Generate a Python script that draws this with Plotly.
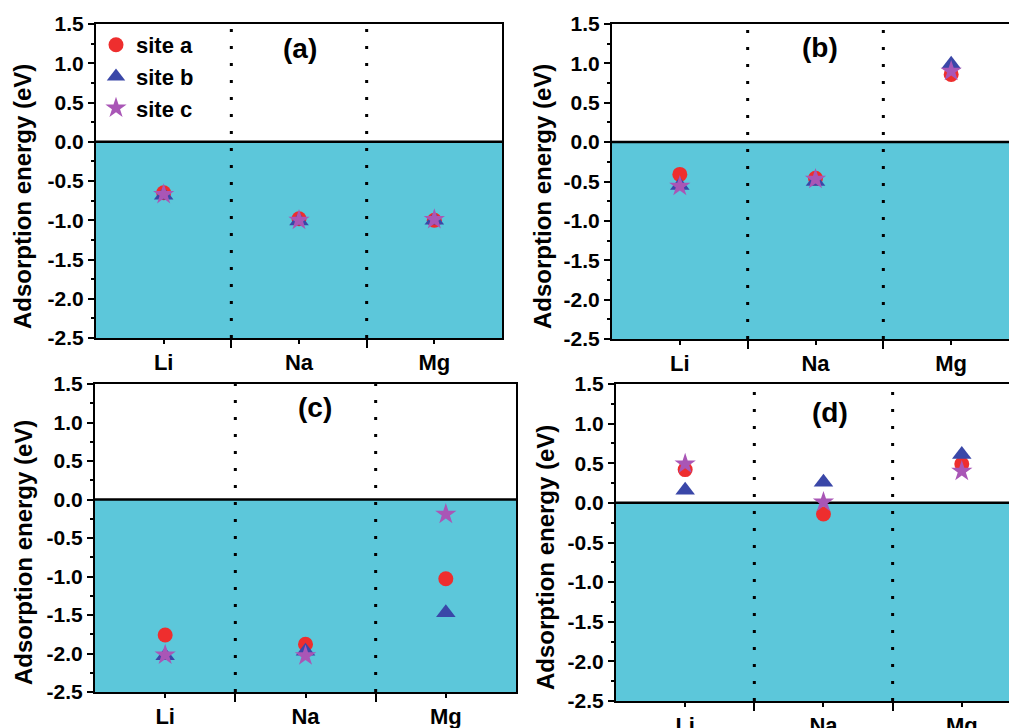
import plotly.graph_objects as go

W, H = 1017, 728
OFF = 8  # page body margin: screen pixel = figure pixel + OFF

categories = ["Li", "Na", "Mg"]
series_names = ["site a", "site b", "site c"]

# panel (a)
a_site_a = [-0.65, -0.98, -1.00]
a_site_b = [-0.68, -1.01, -1.00]
a_site_c = [-0.67, -1.00, -0.99]
# panel (b)
b_site_a = [-0.41, -0.46, 0.86]
b_site_b = [-0.55, -0.50, 0.99]
b_site_c = [-0.56, -0.47, 0.90]
# panel (c)
c_site_a = [-1.76, -1.88, -1.03]
c_site_b = [-2.03, -1.97, -1.47]
c_site_c = [-2.02, -2.03, -0.19]
# panel (d)
d_site_a = [0.42, -0.14, 0.49]
d_site_b = [0.16, 0.26, 0.61]
d_site_c = [0.49, 0.01, 0.40]

panel_labels = ["(a)", "(b)", "(c)", "(d)"]
y_title = "Adsorption energy (eV)"
y_ticks = [1.5, 1.0, 0.5, 0.0, -0.5, -1.0, -1.5, -2.0, -2.5]

panels = [
    [a_site_a, a_site_b, a_site_c],
    [b_site_a, b_site_b, b_site_c],
    [c_site_a, c_site_b, c_site_c],
    [d_site_a, d_site_b, d_site_c],
]

RED = "#ee2e2e"
BLUE = "#3a47a8"
PURPLE = "#a956b6"
CYAN = "#5cc7da"
styles = [
    dict(symbol="circle", size=15, color=RED),
    dict(symbol="triangle-up", size=17, color=BLUE),
    dict(symbol="star", size=16, color=PURPLE),
]

FONT = "Liberation Sans, Arial, sans-serif"


def fx(px):
    return (px - OFF) / W


def fy(py):
    return 1 - (py - OFF) / H


# screen-pixel geometry of each panel: left, right, top, bottom, x-range max
geom = [
    (96, 502, 24, 338, 3.5),
    (612, 1019, 24, 339, 3.5),
    (95, 516, 384, 692, 3.5),
    (616, 1025, 384, 701, 3.457),
]
title_pos = [(23, 197), (543, 197), (23, 553), (545, 558)]
label_pos = [(300, 48), (820, 47), (315, 407), (830, 412)]

xs = [i + 1 for i in range(len(categories))]
dividers = [i + 1.5 for i in range(len(categories) - 1)]

fig = go.Figure()
layout = dict(
    width=W, height=H,
    margin=dict(l=0, r=0, t=0, b=0, autoexpand=False),
    paper_bgcolor="white", plot_bgcolor="white",
    font=dict(family=FONT, size=20, color="black", weight="bold"),
    showlegend=True,
    legend=dict(x=fx(96), y=fy(24), xanchor="left", yanchor="top",
                bgcolor="rgba(0,0,0,0)", font=dict(size=22, weight="bold"),
                itemwidth=30, tracegroupgap=0),
    shapes=[], annotations=[],
)

for p, (vals, (l, r, t, b, xmax)) in enumerate(zip(panels, geom)):
    sfx = "" if p == 0 else str(p + 1)
    xa, ya = "x" + sfx, "y" + sfx
    for s, (yv, st) in enumerate(zip(vals, styles)):
        fig.add_trace(go.Scatter(
            x=xs, y=yv, mode="markers", name=series_names[s],
            marker=dict(symbol=st["symbol"], size=st["size"], color=st["color"],
                        line=dict(width=0)),
            xaxis=xa, yaxis=ya, showlegend=(p == 0), cliponaxis=False,
        ))
    layout["xaxis" + sfx] = dict(
        domain=[fx(l), min(1.0, fx(r))], range=[0.5, xmax], anchor=ya, automargin=False,
        tickmode="array", tickvals=xs, ticktext=categories,
        ticks="outside", ticklen=4, tickwidth=2, tickcolor="black",
        showline=True, linewidth=2, linecolor="black", mirror=True,
        showgrid=False, zeroline=False,
        tickfont=dict(size=22, weight="bold"),
        minor=dict(tickmode="array", tickvals=dividers, ticks="outside",
                   ticklen=8, tickwidth=2, tickcolor="black", showgrid=False),
    )
    layout["yaxis" + sfx] = dict(
        domain=[fy(b), fy(t)], range=[-2.5, 1.5], anchor=xa, automargin=False,
        tickmode="array", tickvals=y_ticks,
        ticktext=["%.1f" % v for v in y_ticks],
        ticks="outside", ticklen=6, tickwidth=2, tickcolor="black",
        showline=True, linewidth=2, linecolor="black", mirror=True,
        showgrid=False, zeroline=False,
        tickfont=dict(size=21, weight="bold"),
        minor=dict(dtick=0.25, tick0=0, ticks="outside", ticklen=3,
                   tickwidth=1.5, tickcolor="black", showgrid=False),
    )
    layout["shapes"] += [
        dict(type="rect", xref=xa + " domain", yref=ya, x0=0, x1=1, y0=-2.5, y1=0,
             fillcolor=CYAN, line=dict(width=0), layer="below"),
        dict(type="line", xref=xa + " domain", yref=ya, x0=0, x1=1, y0=0, y1=0,
             line=dict(color="black", width=2.5), layer="below"),
    ]
    for d in dividers:
        layout["shapes"].append(dict(
            type="line", xref=xa, yref=ya, x0=d, x1=d, y0=-2.5, y1=1.5,
            line=dict(color="black", width=3, dash="3px,14px"), layer="below"))
    tx, ty = title_pos[p]
    layout["annotations"].append(dict(
        text=y_title, xref="paper", yref="paper", x=fx(tx), y=fy(ty),
        xanchor="center", yanchor="middle", textangle=-90, showarrow=False,
        font=dict(size=24, weight="bold")))
    lx, ly = label_pos[p]
    layout["annotations"].append(dict(
        text=panel_labels[p], xref="paper", yref="paper", x=fx(lx), y=fy(ly),
        xanchor="center", yanchor="middle", showarrow=False,
        font=dict(size=28, weight="bold")))

fig.update_layout(**layout)
fig.write_html("out.html")
